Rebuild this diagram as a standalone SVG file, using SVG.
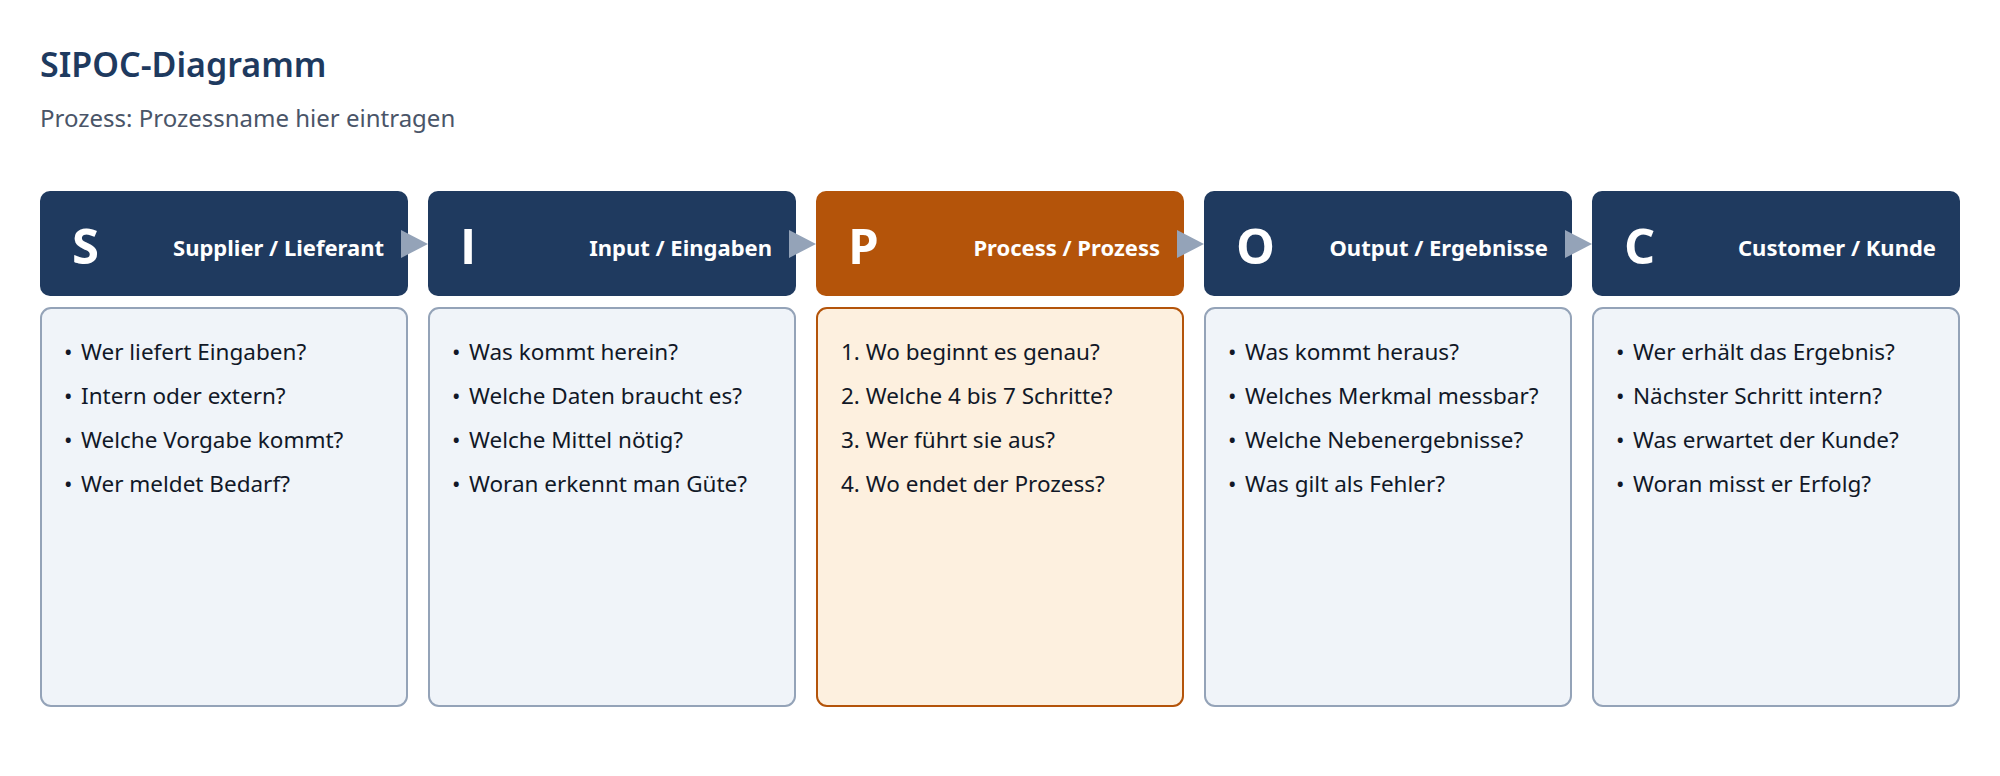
<svg xmlns="http://www.w3.org/2000/svg" width="2000" height="776" viewBox="0 0 2000 776">
<style>
  text { font-family: "Noto Sans", "Open Sans", "Liberation Sans", sans-serif; }
  .title { font-size: 34px; font-weight: 600; fill: #1e3a5f; }
  .sub { font-size: 24px; fill: #4a5568; }
  .hdr { fill: #1f3a5f; }
  .hdr-p { fill: #b4540a; }
  .letter { font-family: "Open Sans", "Noto Sans", sans-serif; font-size: 49px; font-weight: 700; fill: #ffffff; }
  .lbl { font-size: 22px; font-weight: 700; fill: #ffffff; text-anchor: end; }
  .body { fill: #f0f4f9; stroke: #94a3b8; stroke-width: 2; }
  .body-p { fill: #fdf0df; stroke: #b4540a; stroke-width: 2; }
  .item { font-size: 22.5px; fill: #111827; }
  .arrow { fill: #94a3b8; }
</style>
<rect x="0" y="0" width="2000" height="776" fill="#ffffff"/>
<text class="title" x="40" y="77">SIPOC-Diagramm</text>
<text class="sub" x="40" y="127">Prozess: Prozessname hier eintragen</text>

<g id="node-S">
  <rect class="hdr" x="40" y="191" width="368" height="105" rx="10"/>
  <text class="letter" x="72" y="264">S</text>
  <text class="lbl" x="384" y="256">Supplier / Lieferant</text>
  <rect class="body" x="41" y="308" width="366" height="398" rx="10"/>
  <text class="item" y="360"><tspan x="64">•</tspan><tspan x="81">Wer liefert Eingaben?</tspan></text>
  <text class="item" y="404"><tspan x="64">•</tspan><tspan x="81">Intern oder extern?</tspan></text>
  <text class="item" y="448"><tspan x="64">•</tspan><tspan x="81">Welche Vorgabe kommt?</tspan></text>
  <text class="item" y="492"><tspan x="64">•</tspan><tspan x="81">Wer meldet Bedarf?</tspan></text>
</g>

<g id="node-I">
  <rect class="hdr" x="428" y="191" width="368" height="105" rx="10"/>
  <text class="letter" x="460" y="264">I</text>
  <text class="lbl" x="772" y="256">Input / Eingaben</text>
  <rect class="body" x="429" y="308" width="366" height="398" rx="10"/>
  <text class="item" y="360"><tspan x="452">•</tspan><tspan x="469">Was kommt herein?</tspan></text>
  <text class="item" y="404"><tspan x="452">•</tspan><tspan x="469">Welche Daten braucht es?</tspan></text>
  <text class="item" y="448"><tspan x="452">•</tspan><tspan x="469">Welche Mittel nötig?</tspan></text>
  <text class="item" y="492"><tspan x="452">•</tspan><tspan x="469">Woran erkennt man Güte?</tspan></text>
</g>

<g id="node-P">
  <rect class="hdr-p" x="816" y="191" width="368" height="105" rx="10"/>
  <text class="letter" x="848" y="264">P</text>
  <text class="lbl" x="1160" y="256">Process / Prozess</text>
  <rect class="body-p" x="817" y="308" width="366" height="398" rx="10"/>
  <text class="item" x="841" y="360">1. Wo beginnt es genau?</text>
  <text class="item" x="841" y="404">2. Welche 4 bis 7 Schritte?</text>
  <text class="item" x="841" y="448">3. Wer führt sie aus?</text>
  <text class="item" x="841" y="492">4. Wo endet der Prozess?</text>
</g>

<g id="node-O">
  <rect class="hdr" x="1204" y="191" width="368" height="105" rx="10"/>
  <text class="letter" x="1236" y="264">O</text>
  <text class="lbl" x="1548" y="256">Output / Ergebnisse</text>
  <rect class="body" x="1205" y="308" width="366" height="398" rx="10"/>
  <text class="item" y="360"><tspan x="1228">•</tspan><tspan x="1245">Was kommt heraus?</tspan></text>
  <text class="item" y="404"><tspan x="1228">•</tspan><tspan x="1245">Welches Merkmal messbar?</tspan></text>
  <text class="item" y="448"><tspan x="1228">•</tspan><tspan x="1245">Welche Nebenergebnisse?</tspan></text>
  <text class="item" y="492"><tspan x="1228">•</tspan><tspan x="1245">Was gilt als Fehler?</tspan></text>
</g>

<g id="node-C">
  <rect class="hdr" x="1592" y="191" width="368" height="105" rx="10"/>
  <text class="letter" x="1624" y="264">C</text>
  <text class="lbl" x="1936" y="256">Customer / Kunde</text>
  <rect class="body" x="1593" y="308" width="366" height="398" rx="10"/>
  <text class="item" y="360"><tspan x="1616">•</tspan><tspan x="1633">Wer erhält das Ergebnis?</tspan></text>
  <text class="item" y="404"><tspan x="1616">•</tspan><tspan x="1633">Nächster Schritt intern?</tspan></text>
  <text class="item" y="448"><tspan x="1616">•</tspan><tspan x="1633">Was erwartet der Kunde?</tspan></text>
  <text class="item" y="492"><tspan x="1616">•</tspan><tspan x="1633">Woran misst er Erfolg?</tspan></text>
</g>

<g id="connectors">
  <polygon class="arrow" points="401,230 428,244 401,258"/>
  <polygon class="arrow" points="789,230 816,244 789,258"/>
  <polygon class="arrow" points="1177,230 1204,244 1177,258"/>
  <polygon class="arrow" points="1565,230 1592,244 1565,258"/>
</g>
</svg>
